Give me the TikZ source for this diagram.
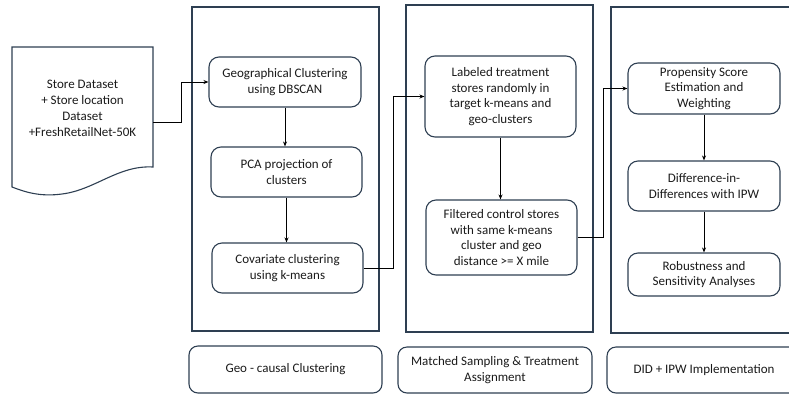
\documentclass[tikz,border=0pt]{standalone}
\usepackage{fontspec}
\setmainfont{Carlito}
\usetikzlibrary{arrows.meta}
\definecolor{edge}{HTML}{2E3F52}
\definecolor{txt}{HTML}{1A1A1A}
\tikzset{
  panel/.style={draw=edge, line width=1.1pt},
  stepbox/.style={draw=edge, line width=1.1pt, rounded corners=10pt, align=center,
    text=txt, font=\fontsize{13}{15.5}\selectfont, inner sep=2pt},
  labelbox/.style={draw=edge, line width=1.1pt, rounded corners=9pt, align=center,
    text=txt, font=\fontsize{13}{15.5}\selectfont, inner sep=2pt},
  conn/.style={draw=black, line width=0.9pt, -{Stealth[length=5pt,width=4pt]}},
}
\begin{document}
\begin{tikzpicture}[x=1pt,y=-1pt]
\useasboundingbox (0,0) rectangle (789,394);
\begin{scope}
\clip (0,0) rectangle (789,394);
% panels
\draw[panel] (192,7) rectangle (379,331);
\draw[panel] (406,5) rectangle (593,332);
\draw[panel] (611,7) rectangle (805,333);
% document shape
\draw[draw=edge, line width=1.1pt] (12,47) -- (153,47) -- (153,167)
  .. controls (118,165) and (95,190) .. (62,194)
  .. controls (40,197) and (25,192) .. (12,187) -- cycle;
\node[text=txt, font=\fontsize{13}{16}\selectfont, align=center] (doc) at (82.5,108)
  {Store Dataset\\+ Store location\\Dataset\\+FreshRetailNet-50K};
\coordinate (docout) at (153,122);
% step boxes
\node[stepbox, minimum width=152pt, minimum height=50pt] (geo) at (285,82)
  {Geographical Clustering\\using DBSCAN};
\node[stepbox, minimum width=151pt, minimum height=50pt] (pca) at (286.5,172)
  {PCA projection of\\clusters};
\node[stepbox, minimum width=151pt, minimum height=50pt] (cov) at (287.5,268)
  {Covariate clustering\\using k-means};
\node[stepbox, minimum width=151pt, minimum height=81pt] (lab) at (500.5,96.5)
  {Labeled treatment\\stores randomly in\\target k-means and\\geo-clusters};
\node[stepbox, minimum width=151pt, minimum height=75pt] (fil) at (501.5,237.5)
  {Filtered control stores\\with same k-means\\cluster and geo\\distance >= X mile};
\node[stepbox, minimum width=152pt, minimum height=51pt] (prop) at (704,88.5)
  {Propensity Score\\Estimation and\\Weighting};
\node[stepbox, minimum width=152pt, minimum height=50pt] (diff) at (704,186)
  {Difference-in-\\Differences with IPW};
\node[stepbox, minimum width=152pt, minimum height=43pt] (rob) at (704,274.5)
  {Robustness and\\Sensitivity Analyses};
% label boxes
\node[labelbox, minimum width=193pt, minimum height=47pt] (l1) at (285.5,369.5)
  {Geo - causal Clustering};
\node[labelbox, minimum width=194pt, minimum height=46pt] (l2) at (495,370)
  {Matched Sampling \& Treatment\\Assignment};
\node[labelbox, minimum width=194pt, minimum height=46pt] (l3) at (704,370)
  {DID + IPW Implementation};
% connectors
\draw[conn] (docout) -- ++(28,0) |- (geo.west);
\draw[conn] (geo.south) -- (geo.south |- pca.north);
\draw[conn] (pca.south) -- (pca.south |- cov.north);
\draw[conn] (cov.east) -- ++(30,0) |- (lab.west);
\draw[conn] (lab.south) -- (lab.south |- fil.north);
\draw[conn] (fil.east) -- ++(26,0) |- (prop.west);
\draw[conn] (prop.south) -- (prop.south |- diff.north);
\draw[conn] (diff.south) -- (diff.south |- rob.north);
\end{scope}
\end{tikzpicture}
\end{document}
